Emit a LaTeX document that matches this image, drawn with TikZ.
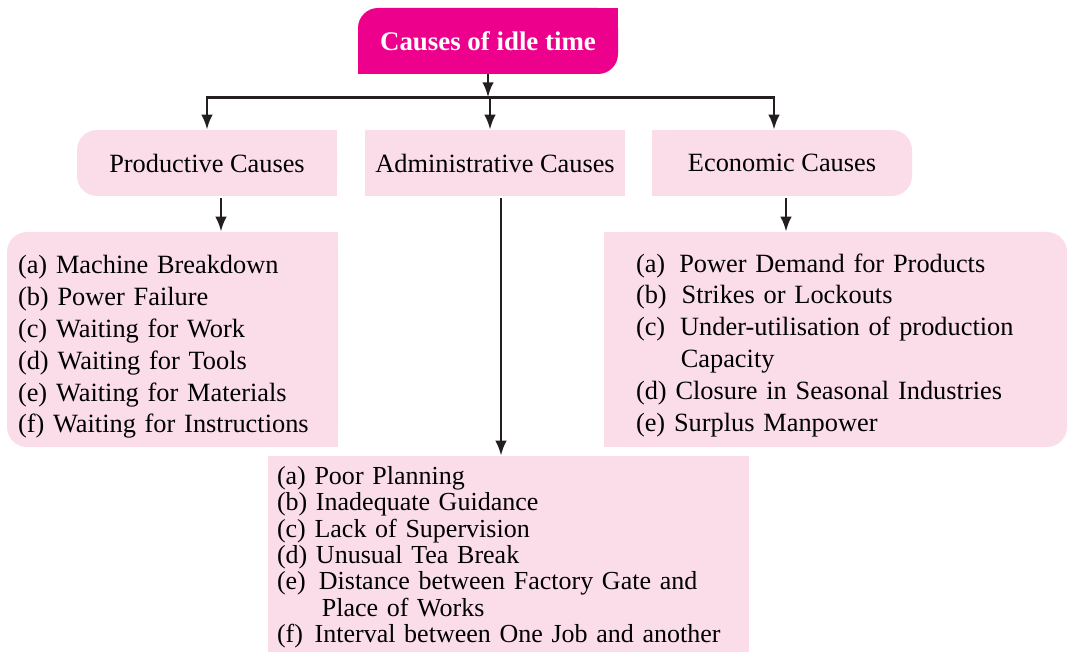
\documentclass[tikz,border=0pt]{standalone}
\usepackage{fontspec}
\setmainfont{Liberation Serif}
\usetikzlibrary{arrows.meta,positioning,backgrounds}
\definecolor{idlepink}{RGB}{236,0,140}
\definecolor{softpink}{RGB}{251,221,233}
\definecolor{inkline}{RGB}{35,31,32}
\tikzset{font=\fontsize{15}{18.1}\selectfont}
\tikzset{every node/.append style={transform shape=false}}
\tikzset{
  headbox/.style={fill=softpink,minimum width=5.2cm,minimum height=1.32cm,inner sep=0pt},
  listbox/.style={fill=softpink,align=left,inner ysep=0pt},
  arr/.style={-{Latex[length=8.5pt,width=6.5pt]},draw=inkline,line width=1.4pt},
}

\begin{document}
\begin{tikzpicture}
  \useasboundingbox (0,0) rectangle (21.34,13.04);
  % title and the three groups
  \node[fill=idlepink,text=white,font=\bfseries\fontsize{15.3}{18}\selectfont,
        minimum width=5.2cm,minimum height=1.32cm,inner sep=0pt,
        rounded corners=0.4cm] (idle) at (9.76,12.22) {Causes of idle time};
  \node[headbox,rounded corners=0.4cm] (prod) at (4.14,9.78) {Productive Causes};
  \node[headbox] (admin) at (9.9,9.78) {Administrative Causes};
  \node[headbox,rounded corners=0.4cm] (econ) at (15.64,9.78) {Economic Causes};
  % lists
  \node[listbox,rounded corners=0.4cm,inner xsep=0.22cm,text width=6.18cm,
        minimum height=4.3cm] (prodlist) at (3.45,6.25)
    {\rule{0pt}{19pt}(a) Machine Breakdown\\(b) Power Failure\\(c) Waiting for Work\\
     (d) Waiting for Tools\\(e) Waiting for Materials\\(f) Waiting for Instructions};
  \node[listbox,rounded corners=0.4cm,inner xsep=0.64cm,text width=7.98cm,
        minimum height=4.3cm] (econlist) at (16.71,6.25)
    {\rule{0pt}{17pt}(a)\hspace{8pt}Power Demand for Products\\
     (b)\hspace{8.5pt}Strikes or Lockouts\\
     (c)\hspace{8.5pt}Under-utilisation of production\\
     \hspace*{25.5pt}Capacity\\
     (d) Closure in Seasonal Industries\\
     (e) Surplus Manpower};
  \node[listbox,inner xsep=0.18cm,text width=9.26cm,minimum height=3.92cm,
        font=\fontsize{14.8}{15}\selectfont] (adminlist) at (10.17,1.96)
    {\rule{0pt}{14pt}(a) Poor Planning\\(b) Inadequate Guidance\\(c) Lack of Supervision\\
     (d) Unusual Tea Break\\
     (e)\hspace{0.5em}Distance between Factory Gate and\\
     \hspace*{25.5pt}Place of Works\\
     (f)\hspace{0.45em}Interval between One Job and another};
  % square corners
  \begin{scope}[on background layer]
    \fill[idlepink] (idle.north) rectangle (idle.east);
    \fill[idlepink] (idle.west) rectangle (idle.south);
    \fill[softpink] (prod.north) rectangle (prod.south east);
    \fill[softpink] (prodlist.north) rectangle (prodlist.south east);
    \fill[softpink] (econ.north west) rectangle (econ.south);
    \fill[softpink] (econlist.north west) rectangle (econlist.south);
  \end{scope}
  % connectors
  \coordinate (hub) at ([yshift=-0.46cm]idle.south);
  \coordinate (aa) at ([xshift=-0.1cm]admin.north);
  \coordinate (ea) at ([xshift=-0.16cm]econ.north);
  \coordinate (pa) at ([xshift=0.28cm,yshift=-0.04cm]prod.south);
  \coordinate (ma) at ([xshift=0.12cm,yshift=-0.04cm]admin.south);
  \coordinate (ca) at ([xshift=0.08cm,yshift=-0.04cm]econ.south);
  \draw[arr] (idle.south) -- (hub);
  \draw[inkline,line width=1.4pt,line cap=rect] (prod.north |- hub) -- (ea |- hub);
  \draw[arr] (prod.north |- hub) -- (prod.north);
  \draw[arr] (aa |- hub) -- (aa);
  \draw[arr] (ea |- hub) -- (ea);
  \draw[arr] (pa) -- (pa |- prodlist.north);
  \draw[arr] (ma) -- (ma |- adminlist.north);
  \draw[arr] (ca) -- (ca |- econlist.north);
\end{tikzpicture}
\end{document}
